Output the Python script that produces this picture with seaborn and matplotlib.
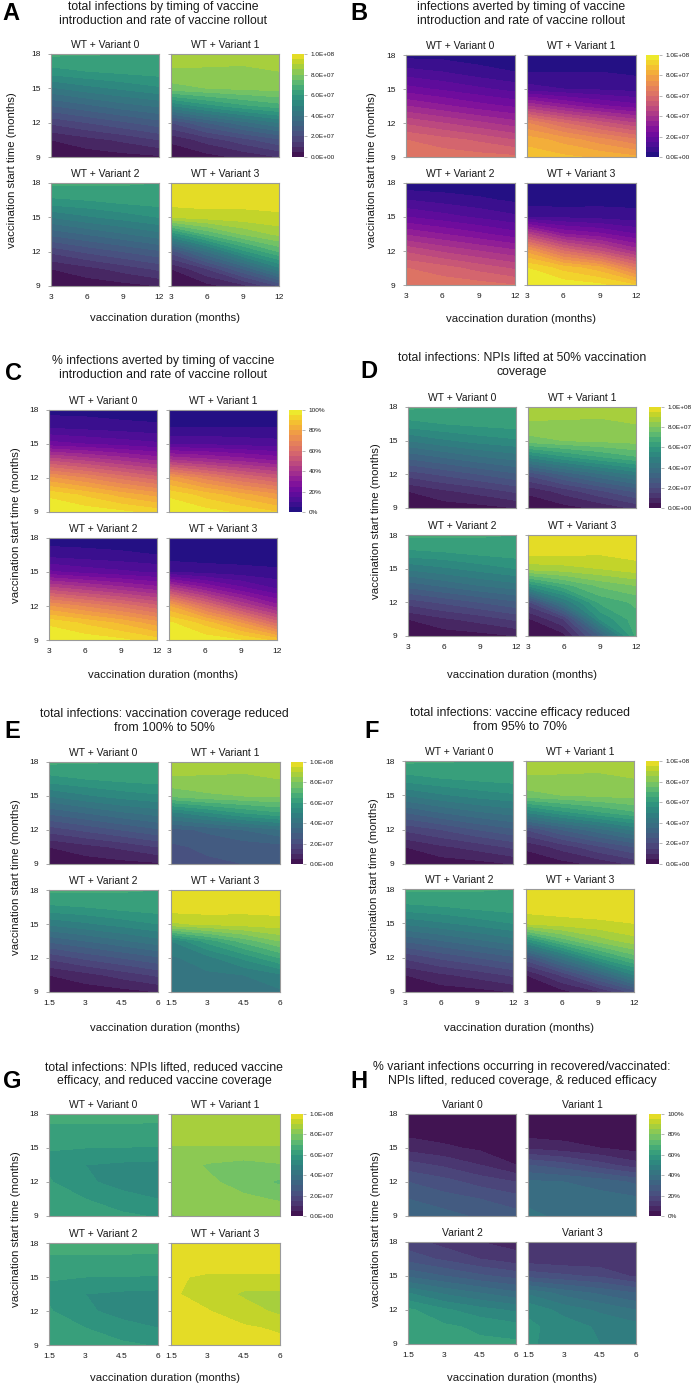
import numpy as np
import matplotlib
matplotlib.use("Agg")
import matplotlib.pyplot as plt
from matplotlib.colors import ListedColormap
import seaborn as sns

# ---------------- data ----------------
# grid rows: vaccination start time (months), bottom -> top
Y_MONTHS = [9, 10.5, 12, 13.5, 15, 16.5, 18]
# grid columns: vaccination duration (months)
X_LONG = [3, 6, 9, 12]
X_SHORT = [1.5, 3, 4.5, 6]
Y_TICKS = [9, 12, 15, 18]

WT_TITLES = ["WT + Variant 0", "WT + Variant 1", "WT + Variant 2", "WT + Variant 3"]
VAR_TITLES = ["Variant 0", "Variant 1", "Variant 2", "Variant 3"]

INF_SCALE = 1e7     # infection grids are given in units of 10 million
INF_TICKS = [0, 2e7, 4e7, 6e7, 8e7, 1e8]
PCT_TICKS = [0, 20, 40, 60, 80, 100]

# A: total infections (x 1e7)
A_V0 = [[0.1, 0.2, 0.3, 0.4], [0.5, 0.8, 1.1, 1.5], [1.6, 2.0, 2.4, 2.8], [3.0, 3.4, 3.8, 4.1],
        [4.4, 4.8, 5.1, 5.4], [5.8, 6.0, 6.15, 6.25], [6.6, 6.55, 6.5, 6.45]]
A_V1 = [[0.1, 0.3, 0.6, 1.0], [0.6, 1.2, 1.8, 2.4], [2.0, 3.0, 3.8, 4.5], [5.0, 5.8, 6.4, 6.8],
        [7.8, 8.0, 8.1, 8.2], [8.4, 8.4, 8.4, 8.5], [8.9, 8.8, 8.7, 8.6]]
A_V2 = [[0.1, 0.2, 0.3, 0.5], [0.5, 0.8, 1.2, 1.6], [1.6, 2.1, 2.5, 2.9], [3.1, 3.5, 3.9, 4.3],
        [4.5, 4.9, 5.2, 5.5], [5.9, 6.0, 6.2, 6.3], [6.6, 6.6, 6.55, 6.5]]
A_V3 = [[0.1, 0.3, 0.8, 2.0], [0.5, 1.5, 3.0, 4.8], [2.2, 4.0, 5.8, 7.0], [5.5, 7.0, 8.0, 8.6],
        [9.0, 9.2, 9.3, 9.4], [9.8, 9.8, 9.7, 9.7], [9.9, 9.9, 9.9, 9.9]]

# B: infections averted (x 1e7)
B_V0 = [[6.4, 6.3, 6.2, 6.1], [6.0, 5.7, 5.4, 5.0], [4.9, 4.5, 4.1, 3.7], [3.5, 3.1, 2.7, 2.4],
        [2.2, 1.9, 1.6, 1.3], [1.2, 1.0, 0.7, 0.5], [0.3, 0.3, 0.2, 0.2]]
B_V1 = [[8.8, 8.6, 8.4, 8.1], [8.3, 7.8, 7.2, 6.6], [7.0, 6.0, 5.2, 4.5], [4.0, 3.2, 2.6, 2.2],
        [1.2, 1.0, 0.9, 0.8], [0.5, 0.5, 0.5, 0.4], [0.1, 0.2, 0.3, 0.3]]
B_V2 = [[6.4, 6.3, 6.2, 6.0], [6.0, 5.7, 5.3, 4.9], [4.9, 4.4, 4.0, 3.6], [3.4, 3.0, 2.6, 2.2],
        [2.0, 1.7, 1.4, 1.1], [1.0, 0.8, 0.6, 0.4], [0.1, 0.1, 0.1, 0.1]]
B_V3 = [[9.9, 9.8, 9.6, 9.0], [9.5, 8.8, 8.2, 6.5], [7.8, 6.0, 5.0, 3.8], [4.5, 3.0, 2.6, 2.0],
        [1.0, 0.9, 0.8, 0.7], [0.2, 0.2, 0.3, 0.3], [0.1, 0.1, 0.1, 0.1]]

# C: % infections averted
C_V0 = [[99, 98, 96, 93], [94, 89, 83, 78], [76, 70, 63, 57], [50, 45, 40, 35],
        [22, 20, 18, 16], [9, 8, 7, 6], [3, 3, 2, 2]]
C_V1 = [[99, 97, 94, 90], [94, 88, 82, 76], [78, 68, 60, 54], [42, 38, 34, 30],
        [14, 14, 13, 12], [5, 5, 5, 5], [2, 2, 2, 2]]
C_V2 = [[99, 98, 96, 92], [94, 89, 84, 77], [75, 69, 63, 56], [48, 43, 38, 33],
        [21, 18, 16, 14], [8, 7, 6, 5], [2, 2, 2, 2]]
C_V3 = [[99, 98, 95, 88], [96, 88, 75, 58], [80, 62, 45, 32], [45, 32, 22, 15],
        [10, 8, 7, 6], [2, 2, 2, 2], [1, 1, 1, 1]]

# D: total infections, NPIs lifted at 50% coverage (x 1e7)
D_V0 = [[0.1, 0.2, 0.3, 0.5], [0.5, 0.9, 1.2, 1.6], [1.7, 2.1, 2.5, 2.9], [3.1, 3.5, 3.9, 4.2],
        [4.5, 4.9, 5.2, 5.4], [5.8, 6.0, 6.15, 6.25], [6.6, 6.55, 6.5, 6.45]]
D_V1 = [[0.1, 0.3, 0.6, 1.1], [0.6, 1.2, 1.9, 2.6], [2.1, 3.1, 3.9, 4.6], [5.0, 5.8, 6.4, 6.9],
        [7.8, 8.0, 8.1, 8.2], [8.4, 8.4, 8.4, 8.5], [8.9, 8.8, 8.7, 8.6]]
D_V2 = [[0.1, 0.2, 0.3, 0.5], [0.5, 0.9, 1.2, 1.6], [1.7, 2.1, 2.5, 2.9], [3.2, 3.6, 4.0, 4.3],
        [4.6, 4.9, 5.2, 5.5], [5.9, 6.0, 6.2, 6.3], [6.6, 6.6, 6.55, 6.5]]
D_V3 = [[0.1, 0.3, 3.0, 6.6], [0.4, 1.5, 5.5, 6.8], [1.8, 4.5, 6.6, 7.1], [5.6, 6.8, 7.6, 8.0],
        [8.7, 8.8, 9.0, 9.3], [9.7, 9.7, 9.6, 9.7], [9.9, 9.9, 9.9, 9.9]]

# E: total infections, coverage reduced to 50% (x 1e7)
E_V0 = [[0.1, 0.2, 0.3, 0.4], [0.5, 0.8, 1.1, 1.5], [1.7, 2.1, 2.5, 2.9], [3.1, 3.5, 3.9, 4.2],
        [4.5, 4.9, 5.2, 5.4], [5.8, 6.0, 6.15, 6.25], [6.6, 6.55, 6.5, 6.45]]
E_V1 = [[2.1, 2.4, 2.5, 2.6], [2.4, 2.6, 2.7, 2.8], [2.8, 3.1, 3.5, 3.9], [4.8, 5.4, 6.0, 6.4],
        [7.6, 7.9, 8.0, 8.1], [8.4, 8.4, 8.4, 8.5], [8.9, 8.8, 8.7, 8.6]]
E_V2 = [[0.1, 0.2, 0.3, 0.5], [0.5, 0.8, 1.2, 1.6], [1.6, 2.1, 2.5, 2.9], [3.1, 3.5, 3.9, 4.3],
        [4.6, 4.9, 5.2, 5.5], [5.9, 6.0, 6.2, 6.3], [6.6, 6.6, 6.55, 6.5]]
E_V3 = [[4.3, 4.3, 4.4, 4.4], [4.3, 4.4, 4.5, 4.9], [4.4, 4.8, 5.6, 6.5], [5.0, 6.2, 7.2, 8.0],
        [8.9, 9.1, 9.2, 9.3], [9.8, 9.8, 9.7, 9.7], [9.9, 9.9, 9.9, 9.9]]

# F: total infections, efficacy reduced to 70% (x 1e7)
F_V0 = [[0.1, 0.2, 0.3, 0.5], [0.5, 0.9, 1.2, 1.6], [1.6, 2.0, 2.5, 2.9], [3.0, 3.5, 3.9, 4.2],
        [4.5, 4.9, 5.2, 5.4], [5.8, 6.0, 6.15, 6.25], [6.6, 6.55, 6.5, 6.45]]
F_V1 = [[0.1, 0.3, 0.6, 1.1], [0.6, 1.2, 1.9, 2.5], [2.0, 3.0, 3.8, 4.6], [5.0, 5.8, 6.4, 6.9],
        [7.8, 8.0, 8.1, 8.2], [8.4, 8.4, 8.4, 8.5], [8.9, 8.8, 8.7, 8.6]]
F_V2 = [[0.1, 0.2, 0.3, 0.5], [0.5, 0.9, 1.2, 1.6], [1.6, 2.1, 2.5, 2.9], [3.1, 3.5, 3.9, 4.3],
        [4.6, 4.9, 5.2, 5.5], [5.9, 6.0, 6.2, 6.3], [6.6, 6.6, 6.55, 6.5]]
F_V3 = [[0.1, 0.3, 0.9, 2.2], [0.5, 1.6, 3.2, 5.0], [2.3, 4.2, 6.0, 7.2], [5.6, 7.2, 8.2, 8.8],
        [9.1, 9.3, 9.4, 9.5], [9.8, 9.8, 9.8, 9.7], [9.9, 9.9, 9.9, 9.9]]

# G: total infections, NPIs lifted + reduced efficacy + reduced coverage (x 1e7)
G_V0 = [[6.3, 6.2, 6.1, 5.95], [6.2, 6.0, 5.7, 5.5], [6.05, 5.6, 5.3, 5.1], [5.9, 5.5, 5.4, 5.35],
        [6.02, 6.0, 5.98, 5.97], [6.35, 6.35, 6.35, 6.4], [6.7, 6.7, 6.7, 6.6]]
G_V1 = [[7.95, 8.3, 8.3, 8.3], [8.2, 8.2, 8.1, 7.95], [8.25, 8.1, 7.8, 7.4], [8.3, 7.95, 7.8, 7.95],
        [8.47, 8.47, 8.47, 8.47], [8.7, 8.7, 8.7, 8.7], [8.8, 8.8, 8.8, 8.8]]
G_V2 = [[6.35, 6.25, 6.1, 5.95], [6.25, 6.0, 5.7, 5.5], [6.05, 5.6, 5.3, 5.1], [5.9, 5.5, 5.4, 5.35],
        [6.03, 6.0, 5.98, 5.97], [6.4, 6.4, 6.4, 6.4], [6.7, 6.7, 6.7, 6.65]]
G_V3 = [[9.6, 9.7, 9.7, 9.6], [9.6, 9.6, 9.55, 9.45], [9.55, 9.52, 9.3, 8.85], [9.55, 9.35, 8.9, 8.9],
        [9.55, 9.45, 9.45, 9.45], [9.7, 9.7, 9.7, 9.7], [9.8, 9.8, 9.8, 9.8]]

# H: % variant infections in recovered/vaccinated
H_V0 = [[33, 32, 29, 27], [30, 27, 25, 22], [25, 22, 18, 15], [17, 14, 10, 5],
        [8, 6, 4, 3], [3, 2, 2, 2], [2, 1, 1, 1]]
H_V1 = [[42, 38, 37, 37], [38, 37, 37, 36], [36, 35, 33, 29], [25, 22, 17, 12],
        [9, 7, 5, 3], [2, 2, 1, 1], [1, 1, 1, 1]]
H_V2 = [[63, 62, 61, 61], [62, 61, 59, 57], [61, 56, 52, 49], [50, 44, 40, 36],
        [34, 30, 26, 23], [23, 19, 15, 12], [17, 13, 10, 8]]
H_V3 = [[56, 52, 50, 49], [56, 53, 49, 47], [54, 48, 44, 40], [44, 38, 34, 30],
        [23, 21, 19, 14], [12, 11, 11, 11], [10, 10, 10, 10]]

TITLES = {
    "A": "total infections by timing of vaccine\nintroduction and rate of vaccine rollout",
    "B": "infections averted by timing of vaccine\nintroduction and rate of vaccine rollout",
    "C": "% infections averted by timing of vaccine\nintroduction and rate of vaccine rollout",
    "D": "total infections: NPIs lifted at 50% vaccination\ncoverage",
    "E": "total infections: vaccination coverage reduced\nfrom 100% to 50%",
    "F": "total infections: vaccine efficacy reduced\nfrom 95% to 70%",
    "G": "total infections: NPIs lifted, reduced vaccine\nefficacy, and reduced vaccine coverage",
    "H": "% variant infections occurring in recovered/vaccinated:\nNPIs lifted, reduced coverage, & reduced efficacy",
}
XLABEL = "vaccination duration (months)"
YLABEL = "vaccination start time (months)"

# ---------------- style ----------------
sns.set_theme(style="white")
plt.rcParams["font.family"] = ["Liberation Sans", "DejaVu Sans"]


def muted(name, base, top):
    """seaborn palette, muted more in the middle than at the bright end"""
    cols = sns.color_palette(name, 256)
    out = []
    for k, c in enumerate(cols):
        t = k / 255.0
        prop = base + (top - base) * t ** 4
        out.append(sns.desaturate(c, min(prop, 1.0)))
    return ListedColormap(out)


VIRIDIS = muted("viridis", 0.74, 0.92)
PLASMA = muted("plasma", 0.86, 0.95)

W, H = 696, 1386
fig = plt.figure(figsize=(W / 100, H / 100), dpi=100)
fig.patch.set_facecolor("white")


def rect(x, y, w, h):
    return [x / W, 1 - (y + h) / H, w / W, h / H]


def fx(x):
    return x / W


def fy(y):
    return 1 - y / H


SPINE = "#9a9a9a"
TXT = "#1a1a1a"

# layout for each panel (pixel positions)
LAYOUT = {
    "A": dict(cols=(51, 171), rows=(54, 183), w=108, h=103, cb=(292, 12), title=(163, 14), letter=(2, 14), xlab=318, ylab=12),
    "B": dict(cols=(406, 527), rows=(55, 183), w=109, h=102, cb=(646, 13), title=(521, 14), letter=(350, 14), xlab=319, ylab=372),
    "C": dict(cols=(49, 169), rows=(410, 538), w=108, h=102, cb=(289, 13), title=(163, 368), letter=(5, 373), xlab=675, ylab=16),
    "D": dict(cols=(408, 528), rows=(407, 535), w=108, h=101, cb=(649, 12), title=(522, 365), letter=(360, 372), xlab=675, ylab=376),
    "E": dict(cols=(49, 171), rows=(762, 890), w=109, h=102, cb=(291, 12), title=(164, 721), letter=(4, 732), xlab=1028, ylab=16),
    "F": dict(cols=(405, 526), rows=(761, 889), w=108, h=103, cb=(646, 13), title=(520, 720), letter=(364, 731), xlab=1028, ylab=374),
    "G": dict(cols=(49, 171), rows=(1114, 1243), w=109, h=102, cb=(291, 12), title=(164, 1074), letter=(3, 1081), xlab=1378, ylab=16),
    "H": dict(cols=(408, 528), rows=(1114, 1242), w=108, h=102, cb=(649, 12), title=(522, 1074), letter=(350, 1081), xlab=1378, ylab=376),
}

PANELS = [
    ("A", [A_V0, A_V1, A_V2, A_V3], X_LONG, WT_TITLES, VIRIDIS, False),
    ("B", [B_V0, B_V1, B_V2, B_V3], X_LONG, WT_TITLES, PLASMA, False),
    ("C", [C_V0, C_V1, C_V2, C_V3], X_LONG, WT_TITLES, PLASMA, True),
    ("D", [D_V0, D_V1, D_V2, D_V3], X_LONG, WT_TITLES, VIRIDIS, False),
    ("E", [E_V0, E_V1, E_V2, E_V3], X_SHORT, WT_TITLES, VIRIDIS, False),
    ("F", [F_V0, F_V1, F_V2, F_V3], X_LONG, WT_TITLES, VIRIDIS, False),
    ("G", [G_V0, G_V1, G_V2, G_V3], X_SHORT, WT_TITLES, VIRIDIS, False),
    ("H", [H_V0, H_V1, H_V2, H_V3], X_SHORT, VAR_TITLES, VIRIDIS, True),
]

for letter, grids, xvals, subtitles, cmap, pct in PANELS:
    L = LAYOUT[letter]
    vmax = 100.0 if pct else 1e8
    scale = 1.0 if pct else INF_SCALE
    levels = np.linspace(0, vmax, 21)
    Xg, Yg = np.meshgrid(xvals, Y_MONTHS)
    cs = None
    for i, grid in enumerate(grids):
        r, c = divmod(i, 2)
        x0 = L["cols"][c]
        y0 = L["rows"][r]
        ax = fig.add_axes(rect(x0, y0, L["w"], L["h"]))
        Z = np.array(grid, dtype=float) * scale
        cs = ax.contourf(Xg, Yg, Z, levels=levels, cmap=cmap, vmin=0, vmax=vmax)
        ax.set_xlim(xvals[0], xvals[-1])
        ax.set_ylim(Y_MONTHS[0], Y_MONTHS[-1])
        ax.set_yticks(Y_TICKS)
        ax.set_xticks(xvals)
        ax.set_xticklabels([f"{v:g}" for v in xvals])
        for s in ax.spines.values():
            s.set_color(SPINE)
            s.set_linewidth(0.8)
        ax.tick_params(axis="both", length=2.5, width=0.6, color=SPINE, labelsize=6,
                       labelcolor=TXT, direction="out")
        ax.tick_params(axis="y", pad=5, left=True)
        ax.tick_params(axis="x", pad=3)
        if c == 1:
            ax.tick_params(axis="y", labelleft=False)
        if r == 0:
            ax.tick_params(axis="x", bottom=False, labelbottom=False)
        fig.text(fx(x0 + L["w"] / 2), fy(y0 - 9), subtitles[i], ha="center", va="center",
                 fontsize=7.5, color=TXT)

    # colorbar
    cbx, cbw = L["cb"]
    cax = fig.add_axes(rect(cbx, L["rows"][0], cbw, L["h"]))
    ticks = PCT_TICKS if pct else INF_TICKS
    cb = fig.colorbar(cs, cax=cax, ticks=ticks)
    cb.outline.set_visible(False)
    if pct:
        cb.set_ticklabels([f"{t:d}%" for t in ticks])
    else:
        cb.set_ticklabels([f"{t:.1E}" for t in ticks])
    cax.tick_params(length=2, width=0.5, color=SPINE, labelsize=4.6, labelcolor=TXT, pad=3)

    # titles and labels
    tx, ty = L["title"]
    fig.text(fx(tx), fy(ty), TITLES[letter], ha="center", va="center", fontsize=8.8,
             color=TXT, linespacing=1.2)
    lx, ly = L["letter"]
    fig.text(fx(lx), fy(ly), letter, ha="left", va="center", fontsize=17,
             fontweight="bold", color="black")
    xc = (L["cols"][0] + L["cols"][1] + L["w"]) / 2
    fig.text(fx(xc), fy(L["xlab"]), XLABEL, ha="center", va="center", fontsize=8.2, color=TXT)
    yc = (L["rows"][0] + L["rows"][1] + L["h"]) / 2
    fig.text(fx(L["ylab"]), fy(yc), YLABEL, ha="center", va="center", rotation=90,
             fontsize=8.2, color=TXT)

fig.savefig("out.png", dpi=100, facecolor="white")
